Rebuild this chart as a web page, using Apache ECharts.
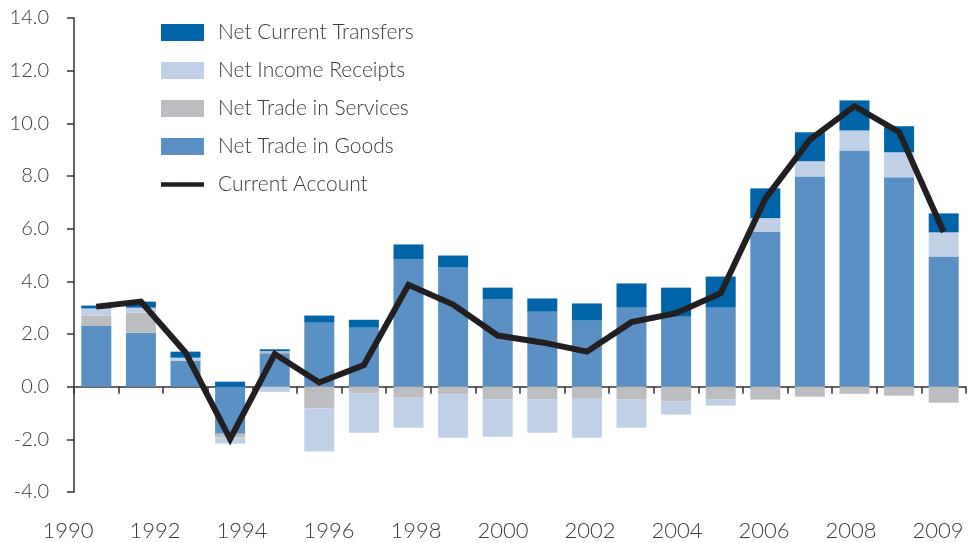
<!DOCTYPE html>
<html>
<head>
<meta charset="utf-8">
<script src="https://cdn.jsdelivr.net/npm/echarts@6/dist/echarts.min.js"></script>
<style>
  html, body { margin: 0; padding: 0; background: #fff; }
  #chart { width: 968px; height: 543px; }
</style>
</head>
<body>
<div id="chart"></div>
<script>
var years = ['1990','1991','1992','1993','1994','1995','1996','1997','1998','1999',
             '2000','2001','2002','2003','2004','2005','2006','2007','2008','2009'];

// tick labels shown under the chart (evenly spaced, not under the bars)
var yearLabels = ['1990','1992','1994','1996','1998','2000','2002','2004','2006','2008','2009'];

var goodsList     = [2.32, 2.05, 0.99, -1.79, 1.27, 2.43, 2.24, 4.83, 4.52, 3.31, 2.85, 2.51, 3.00, 2.66, 3.00, 5.89, 7.98, 8.97, 7.95, 4.94];
var servicesList  = [0.38, 0.76, 0, -0.14, 0.08, -0.82, -0.25, -0.42, -0.30, -0.49, -0.49, -0.46, -0.49, -0.57, -0.49, -0.49, -0.38, -0.27, -0.34, -0.61];
var incomeList    = [0.27, 0.19, 0.11, -0.23, -0.20, -1.64, -1.50, -1.14, -1.64, -1.41, -1.26, -1.48, -1.07, -0.49, -0.23, 0.51, 0.58, 0.76, 0.95, 0.92];
var transfersList = [0.11, 0.23, 0.23, 0.19, 0.07, 0.27, 0.30, 0.57, 0.46, 0.45, 0.50, 0.65, 0.92, 1.10, 1.18, 1.13, 1.10, 1.14, 0.99, 0.72];
var currentList   = [3.04, 3.23, 1.30, -1.99, 1.24, 0.16, 0.82, 3.87, 3.12, 1.94, 1.68, 1.33, 2.45, 2.79, 3.55, 7.14, 9.38, 10.65, 9.67, 5.87];

var legenderList = ['Net Current Transfers', 'Net Income Receipts', 'Net Trade in Services', 'Net Trade in Goods', 'Current Account'];

var fontName = 'Lato';
var textColor = '#3c3c3c';

var chart = echarts.init(document.getElementById('chart'));

var barSeries = function(name, data, color) {
	return {
		name: name,
		type: 'bar',
		stack: 'ca',
		barWidth: 30,
		data: data,
		itemStyle: { color: color },
		emphasis: { disabled: true }
	};
};

chart.setOption({
	animation: false,
	grid: [
		{ left: 74, right: 2, top: 18, bottom: 51, outerBoundsMode: 'none' },
		// second, invisible grid only carries the year labels
		{ left: 68, right: 30, top: 18, bottom: 51, outerBoundsMode: 'none' }
	],
	legend: {
		orient: 'vertical',
		left: 156,
		top: 17,
		itemWidth: 43,
		itemHeight: 17,
		itemGap: 17,
		textStyle: { fontFamily: fontName, fontSize: 21, fontWeight: 300, color: textColor, padding: [0, 0, 0, 9] },
		data: [
			{ name: legenderList[0], icon: 'rect' },
			{ name: legenderList[1], icon: 'rect' },
			{ name: legenderList[2], icon: 'rect' },
			{ name: legenderList[3], icon: 'rect' },
			{ name: legenderList[4], icon: 'path://M0,0H49V5H0Z' }
		]
	},
	xAxis: [{
		type: 'category',
		gridIndex: 0,
		data: years,
		boundaryGap: true,
		axisLine: { onZero: true, lineStyle: { color: '#333', width: 1.5 } },
		axisTick: { show: true, length: 7, lineStyle: { color: '#333', width: 1.5 } },
		axisLabel: { show: false }
	}, {
		type: 'value',
		gridIndex: 1,
		min: 0,
		max: 10,
		interval: 1,
		axisLine: { show: false },
		axisTick: { show: false },
		splitLine: { show: false },
		axisLabel: {
			margin: 28,
			fontFamily: fontName,
			fontSize: 22,
			fontWeight: 300,
			color: textColor,
			formatter: function(v) { return yearLabels[Math.round(v)]; }
		}
	}],
	yAxis: [{
		type: 'value',
		gridIndex: 0,
		min: -4,
		max: 14,
		interval: 2,
		axisLine: { show: true, lineStyle: { color: '#333', width: 1.5 } },
		axisTick: { show: true, length: 7, lineStyle: { color: '#333', width: 1.5 } },
		splitLine: { show: false },
		axisLabel: {
			margin: 25,
			fontFamily: fontName,
			fontSize: 20,
			fontWeight: 300,
			color: textColor,
			formatter: function(v) { return v.toFixed(1); }
		}
	}, {
		type: 'value',
		gridIndex: 1,
		show: false
	}],
	series: [
		barSeries('Net Trade in Goods', goodsList, '#5b90c4'),
		barSeries('Net Trade in Services', servicesList, '#bcbdc1'),
		barSeries('Net Income Receipts', incomeList, '#c0d1e7'),
		barSeries('Net Current Transfers', transfersList, '#0064a8'),
		{
			name: 'Current Account',
			type: 'line',
			data: currentList,
			symbol: 'none',
			z: 5,
			itemStyle: { color: '#231f20' },
			lineStyle: { color: '#231f20', width: 6, join: 'miter' },
			emphasis: { disabled: true }
		}
	]
});
</script>
</body>
</html>
